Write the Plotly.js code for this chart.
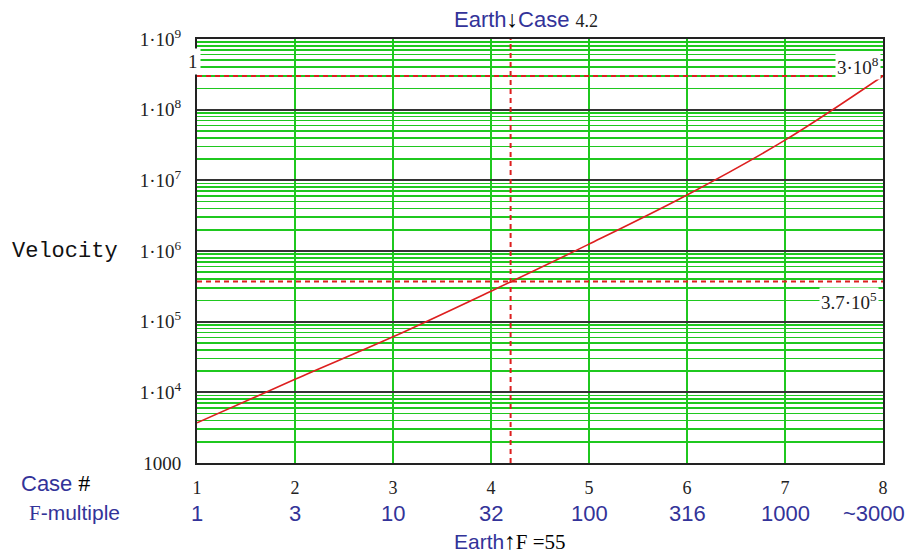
<!DOCTYPE html>
<html>
<head>
<meta charset="utf-8">
<script src="https://cdn.plot.ly/plotly-3.0.1.min.js"></script>
<style>html,body{margin:0;padding:0;background:#fff;}#chart{width:907px;height:556px;}</style>
</head>
<body>
<div id="chart"></div>
<script>
// ---- data ----
const caseNums = [1, 2, 3, 4, 5, 6, 7, 8];
const fMultiple = ['1', '3', '10', '32', '100', '316', '1000', '~3000'];
const velocity = [3.7e3, 1.53e4, 6.1e4, 2.7e5, 1.25e6, 6.2e6, 3.7e7, 3.0e8];
const yTickVals = [1e3, 1e4, 1e5, 1e6, 1e7, 1e8, 1e9];
const yTickText = ['1000', '1·10<sup>4</sup>', '1·10<sup>5</sup>', '1·10<sup>6</sup>',
                   '1·10<sup>7</sup>', '1·10<sup>8</sup>', '1·10<sup>9</sup>'];
const refVelocities = [3.0e8, 3.7e5];
const refLabels = ['3·10<sup>8</sup>', '3.7·10<sup>5</sup>'];
const earthCase = 4.2;
const earthF = 55;

// ---- style ----
const NAVY = '#333399';
const GREEN = '#1fc81f';
const RED = '#dd1f1f';
const SERIF = 'Liberation Serif, serif';
const SANS = 'Liberation Sans, Arial, sans-serif';

const xMin = caseNums[0], xMax = caseNums[caseNums.length - 1];
const yMin = yTickVals[0], yMax = yTickVals[yTickVals.length - 1];

const traces = [];
// reference horizontal dashed lines
refVelocities.forEach(v => {
  traces.push({x: [xMin, xMax], y: [v, v], mode: 'lines', hoverinfo: 'skip',
    line: {color: RED, width: 2, dash: '5px,4px'}, showlegend: false});
});
// vertical dashed line at Earth case
traces.push({x: [earthCase, earthCase], y: [yMin, yMax], mode: 'lines', hoverinfo: 'skip',
  line: {color: RED, width: 2, dash: '5px,4px'}, showlegend: false});
// velocity curve
traces.push({x: caseNums, y: velocity, mode: 'lines',
  line: {color: RED, width: 1.6, shape: 'spline', smoothing: 1}, showlegend: false});

const ARROW = 'font-family:Liberation Serif;font-size:23px;color:#000';
const annotations = [];
// F-multiple row
fMultiple.forEach((t, i) => {
  const last = i === fMultiple.length - 1;
  annotations.push({x: caseNums[i], xref: 'x', y: 0, yref: 'paper', text: t, showarrow: false,
    xanchor: last ? 'right' : 'center', xshift: last ? 24 : 0, yanchor: 'middle', yshift: -50,
    font: {family: SANS, size: 22, color: NAVY}});
});
// row labels
annotations.push({x: 0, xref: 'paper', y: 0, yref: 'paper', xanchor: 'left', xshift: -178,
  yanchor: 'middle', yshift: -20, showarrow: false,
  text: 'Case<span style="font-family:Liberation Serif;font-size:24px;color:#000"> #</span>',
  font: {family: SANS, size: 22, color: NAVY}});
annotations.push({x: 0, xref: 'paper', y: 0, yref: 'paper', xanchor: 'left', xshift: -170,
  yanchor: 'middle', yshift: -50, showarrow: false,
  text: '<span style="font-family:Liberation Serif">F</span>-multiple',
  font: {family: SANS, size: 21, color: NAVY}});
// bottom Earth label
annotations.push({x: 0.455, xref: 'paper', y: 0, yref: 'paper', xanchor: 'center',
  yanchor: 'middle', yshift: -78, showarrow: false,
  text: 'Earth<span style="' + ARROW + '">↑</span><span style="font-family:Liberation Serif;color:#000">F =' + earthF + '</span>',
  font: {family: SANS, size: 21, color: NAVY}});
// top title
annotations.push({x: 0.48, xref: 'paper', y: 1, yref: 'paper', xanchor: 'center',
  yanchor: 'middle', yshift: 20, showarrow: false,
  text: 'Earth<span style="' + ARROW + '">↓</span>Case <span style="font-family:Liberation Serif;font-size:18px;color:#222">' + earthCase + '</span>',
  font: {family: SANS, size: 22, color: NAVY}});
// Velocity axis label
annotations.push({x: 0, xref: 'paper', y: 0.5, yref: 'paper', xanchor: 'right', xshift: -77,
  yanchor: 'middle', showarrow: false, text: 'Velocity',
  font: {family: 'Liberation Mono, monospace', size: 22, color: '#111'}});
// reference value labels
annotations.push({x: xMax, xref: 'x', y: Math.log10(refVelocities[0]), yref: 'y', xanchor: 'right',
  xshift: -2, yanchor: 'bottom', yshift: -4, showarrow: false, text: refLabels[0],
  bgcolor: '#fff', borderpad: 1, font: {family: SERIF, size: 19, color: '#222'}});
annotations.push({x: xMax, xref: 'x', y: Math.log10(refVelocities[1]), yref: 'y', xanchor: 'right',
  xshift: -4, yanchor: 'top', yshift: -5, showarrow: false, text: refLabels[1],
  bgcolor: '#fff', borderpad: 1, font: {family: SERIF, size: 19, color: '#222'}});
// stray "1" marker label at the left edge
annotations.push({x: 0, xref: 'paper', y: 0.946, yref: 'paper', xanchor: 'right', xshift: 4,
  yanchor: 'middle', showarrow: false, text: '1', bgcolor: '#fff', borderpad: 2,
  font: {family: SERIF, size: 19, color: '#222'}});

const layout = {
  width: 907, height: 556,
  margin: {l: 197, r: 24, t: 39, b: 93},
  paper_bgcolor: '#fff', plot_bgcolor: '#fff',
  showlegend: false,
  xaxis: {
    range: [xMin, xMax], tickvals: caseNums, ticktext: caseNums.map(String),
    showgrid: true, gridcolor: GREEN, gridwidth: 1.6, zeroline: false,
    showline: true, linecolor: '#222', linewidth: 2, mirror: true,
    ticks: 'outside', ticklen: 7, tickcolor: 'rgba(0,0,0,0)',
    tickfont: {family: SERIF, size: 18, color: '#222'}
  },
  yaxis: {
    type: 'log', range: [Math.log10(yMin), Math.log10(yMax)],
    tickvals: yTickVals, ticktext: yTickText,
    showgrid: true, gridcolor: '#333', gridwidth: 2, zeroline: false,
    minor: {dtick: 'D1', showgrid: true, gridcolor: GREEN, gridwidth: 1.6, ticks: ''},
    showline: true, linecolor: '#222', linewidth: 2, mirror: true,
    ticks: 'outside', ticklen: 10, tickcolor: 'rgba(0,0,0,0)',
    tickfont: {family: SERIF, size: 19, color: '#222'}
  },
  annotations: annotations
};

Plotly.newPlot('chart', traces, layout, {staticPlot: true, displayModeBar: false});
</script>
</body>
</html>
